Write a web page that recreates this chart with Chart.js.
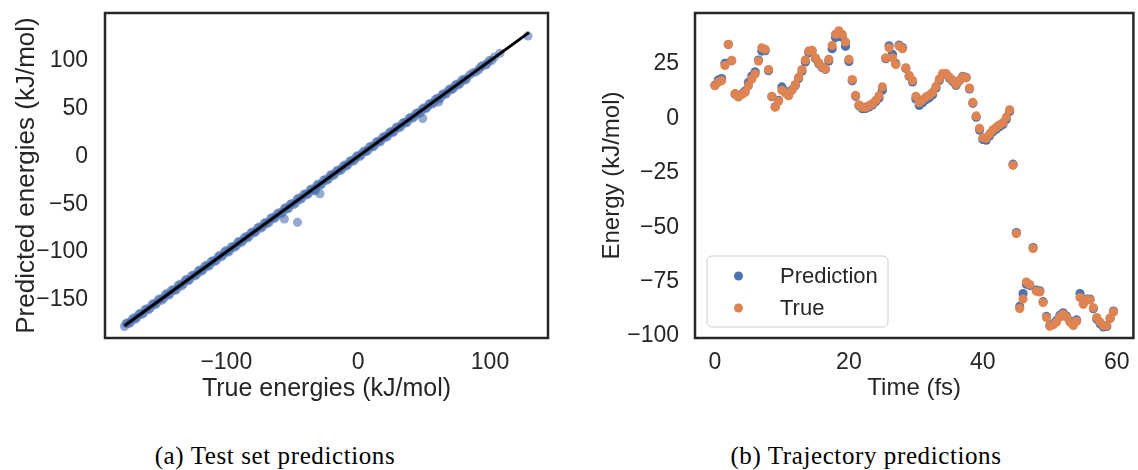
<!DOCTYPE html>
<html>
<head>
<meta charset="utf-8">
<script src="https://cdn.jsdelivr.net/npm/chart.js@4.4.0/dist/chart.umd.min.js"></script>
<style>
  html, body { margin: 0; padding: 0; background: #fff; }
  body { width: 1138px; height: 470px; position: relative; overflow: hidden; }
  canvas { position: absolute; top: 0; }
  #testChart { left: 0; }
  #trajChart { left: 590px; }
  .caption {
    position: absolute; top: 442px; transform: translateX(-50%);
    font-family: "Liberation Serif", serif; font-size: 25px; letter-spacing: 0.6px;
    color: #000; white-space: nowrap;
  }
</style>
</head>
<body>
<canvas id="testChart" width="560" height="410"></canvas>
<canvas id="trajChart" width="548" height="410"></canvas>
<div class="caption" style="left:275px">(a) Test set predictions</div>
<div class="caption" style="left:866px">(b) Trajectory predictions</div>

<script>
// -------------------- DATA: (a) test set --------------------
const testTrue = [-177.2, -175.0, -172.6, -170.1, -167.9, -165.3, -162.8, -160.4, -157.7, -155.2,
  -152.9, -150.3, -147.6, -145.1, -142.8, -140.2, -137.5, -135.3, -132.6, -130.1,
  -127.7, -125.0, -122.4, -120.1, -117.5, -115.0, -112.6, -110.2, -107.4, -104.9,
  -102.5, -100.1, -97.6, -95.0, -92.4, -90.2, -87.5, -85.1, -82.7, -80.0,
  -77.6, -75.1, -72.4, -70.2, -67.5, -65.1, -62.6, -60.1, -57.4, -55.0,
  -52.6, -50.2, -47.5, -45.1, -42.7, -40.0, -37.6, -35.2, -32.5, -30.1,
  -27.7, -25.0, -22.5, -20.1, -17.6, -15.2, -12.4, -10.1, -7.6, -5.0,
  -2.6, -0.2, 2.3, 4.9, 7.4, 9.8, 12.3, 14.9, 17.2, 19.8,
  22.4, 24.9, 27.3, 29.8, 32.4, 34.9, 37.3, 39.8, 42.5, 44.9,
  47.3, 49.8, 52.4, 54.8, 57.3, 59.9, 62.4, 64.8, 67.2, 69.9,
  72.3, 74.8, 77.4, 79.8, 82.2, 87.0, 91.5, 94.2, 96.8, 99.5,
  101.2, 107.5, 128.8,
  -56.0, -46.0, -32.6, -29.0, 49.0, 61.0];
const testPred = [-178.0, -174.1, -173.5, -169.0, -168.8, -164.2, -163.9, -159.6, -158.9, -154.0,
  -153.6, -149.1, -148.7, -143.4, -143.9, -139.5, -138.8, -134.0, -133.4, -128.6,
  -128.9, -124.1, -123.6, -118.9, -118.4, -113.8, -113.9, -109.3, -108.6, -103.5,
  -103.4, -98.6, -98.9, -94.3, -93.5, -88.8, -88.6, -84.0, -83.8, -79.1,
  -78.7, -73.9, -73.6, -69.4, -68.8, -63.9, -63.7, -59.2, -58.6, -53.7,
  -53.9, -49.4, -48.7, -43.6, -43.5, -39.2, -38.9, -34.1, -33.8, -29.0,
  -28.9, -24.2, -23.6, -19.0, -18.5, -14.3, -13.5, -9.2, -8.4, -4.1,
  -3.5, 0.8, 1.4, 5.7, 6.3, 10.6, 11.2, 15.8, 16.1, 20.9,
  21.3, 25.8, 26.2, 30.9, 31.2, 35.6, 36.1, 40.9, 41.4, 45.5,
  46.0, 50.7, 51.1, 55.6, 56.0, 60.8, 61.0, 65.5, 66.1, 70.6,
  71.2, 75.5, 76.2, 80.6, 81.0, 87.5, 90.6, 94.9, 95.7, 100.3,
  100.4, 107.9, 126.0,
  -65.4, -69.0, -36.0, -39.0, 39.6, 57.0];
// second batch of test molecules (fills the dense band)
const testTrue2 = [-176.1, -173.7, -171.3, -169.0, -166.5, -164.0, -161.6, -159.1, -156.4, -154.0,
  -151.6, -149.0, -146.3, -144.0, -141.5, -138.9, -136.4, -134.0, -131.3, -128.9,
  -126.4, -123.7, -121.2, -118.8, -116.3, -113.8, -111.4, -108.8, -106.2, -103.7,
  -101.3, -98.8, -96.3, -93.7, -91.3, -88.8, -86.3, -83.9, -81.4, -78.8,
  -76.3, -73.8, -71.3, -68.9, -66.3, -63.8, -61.4, -58.8, -56.2, -53.8,
  -51.4, -48.9, -46.3, -43.9, -41.3, -38.8, -36.4, -33.9, -31.3, -28.9,
  -26.3, -23.8, -21.3, -18.9, -16.4, -13.8, -11.3, -8.9, -6.3, -3.8,
  -1.4, 1.1, 3.6, 6.1, 8.6, 11.1, 13.6, 16.0, 18.5, 21.1,
  23.6, 26.1, 28.6, 31.1, 33.6, 36.1, 38.6, 41.1, 43.7, 46.1,
  48.6, 51.1, 53.6, 56.1, 58.6, 61.1, 63.6, 66.0, 68.5, 71.1,
  73.6, 76.1, 78.6, 81.0, 84.5, 89.2, 92.8, 97.9, 103.4];
const testPred2 = [-175.2, -174.9, -170.4, -170.3, -165.6, -165.2, -160.3, -160.5, -155.3, -155.2,
  -150.2, -150.4, -145.0, -145.3, -140.1, -140.2, -135.2, -135.5, -130.0, -130.1,
  -125.1, -125.0, -120.0, -120.1, -115.0, -115.2, -110.1, -110.0, -105.0, -105.1,
  -100.0, -100.2, -95.0, -95.1, -90.0, -90.2, -85.1, -85.3, -80.1, -80.0,
  -75.0, -75.2, -70.1, -70.3, -65.0, -65.2, -60.1, -60.3, -55.0, -55.1,
  -50.2, -50.3, -45.0, -45.2, -40.1, -40.2, -35.1, -35.2, -30.1, -30.2,
  -25.1, -25.0, -20.2, -20.1, -15.3, -15.0, -10.2, -10.1, -5.2, -5.0,
  -0.3, -0.1, 4.6, 4.9, 9.7, 9.8, 14.7, 14.8, 19.6, 19.9,
  24.7, 24.8, 29.7, 29.9, 34.5, 34.9, 39.6, 39.9, 44.6, 44.9,
  49.5, 49.8, 54.4, 54.8, 59.5, 59.9, 64.4, 64.8, 69.4, 69.9,
  74.4, 74.9, 79.3, 79.9, 85.1, 88.3, 93.4, 97.1, 103.9];
const parityEnds = [-177.2, 129.5];
const testXTicks = [-100, 0, 100];
const testYTicks = [-150, -100, -50, 0, 50, 100];

// -------------------- DATA: (b) trajectory --------------------
const timeFs = [0, 0.5, 1, 1.5, 2, 2.5, 3, 3.5, 4, 4.5, 5, 5.5, 6, 6.5, 7, 7.5, 8, 8.5, 9, 9.5,
  10, 10.5, 11, 11.5, 12, 12.5, 13, 13.5, 14, 14.5, 15, 15.5, 16, 16.5, 17, 17.5, 18, 18.5, 19, 19.5,
  20, 20.5, 21, 21.5, 22, 22.5, 23, 23.5, 24, 24.5, 25, 25.5, 26, 26.5, 27, 27.5, 28, 28.5, 29, 29.5,
  30, 30.5, 31, 31.5, 32, 32.5, 33, 33.5, 34, 34.5, 35, 35.5, 36, 36.5, 37, 37.5, 38, 38.5, 39, 39.5,
  40, 40.5, 41, 41.5, 42, 42.5, 43, 43.5, 44, 44.5, 45, 45.5, 46, 46.5, 47, 47.5, 48, 48.5, 49, 49.5,
  50, 50.5, 51, 51.5, 52, 52.5, 53, 53.5, 54, 54.5, 55, 55.5, 56, 56.5, 57, 57.5, 58, 58.5, 59, 59.5];
const trueEnergy = [15.1, 16.7, 17.4, 24.4, 34.1, 26.7, 11.4, 9.9, 11.0, 12.0,
  15.1, 18.2, 20.5, 26.4, 32.5, 31.8, 22.5, 10.2, 5.2, 7.9,
  13.0, 11.7, 10.5, 13.0, 15.6, 19.0, 22.5, 26.9, 31.0, 31.3,
  27.9, 25.6, 23.8, 22.8, 27.2, 33.6, 38.7, 40.3, 38.7, 35.2,
  27.2, 17.9, 10.6, 6.3, 5.2, 5.2, 5.9, 6.8, 8.3, 10.5,
  14.5, 27.9, 32.5, 27.9, 24.8, 33.3, 32.1, 23.3, 19.8, 17.5,
  10.2, 7.4, 8.6, 9.9, 10.8, 12.0, 14.8, 18.2, 20.7, 20.7,
  19.0, 17.6, 15.6, 17.6, 19.1, 18.7, 14.0, 7.4, 1.2, -4.5,
  -8.8, -9.1, -7.1, -5.2, -4.0, -2.9, -1.9, 0.6, 4.0, -21.5,
  -52.9, -87.3, -83.0, -75.2, -76.3, -59.7, -79.4, -79.7, -84.6, -91.5,
  -95.5, -94.8, -93.6, -91.2, -89.9, -91.2, -93.6, -95.1, -93.2, -82.3,
  -85.4, -83.4, -83.4, -87.0, -91.5, -93.6, -95.2, -95.2, -91.7, -88.9];
const predEnergy = [15.3, 17.7, 18.4, 25.4, 34.0, 26.5, 11.2, 10.1, 11.3, 12.6,
  16.6, 19.5, 21.5, 26.9, 31.0, 31.2, 22.0, 10.0, 5.4, 8.3,
  14.5, 12.5, 10.9, 13.2, 15.2, 18.4, 21.8, 26.0, 30.2, 31.0,
  27.6, 25.2, 23.4, 22.6, 26.4, 32.1, 37.2, 39.0, 37.3, 33.2,
  26.2, 17.3, 10.2, 5.9, 4.5, 4.6, 5.3, 6.2, 7.7, 9.4,
  13.0, 27.5, 33.4, 29.5, 25.3, 33.8, 32.6, 23.0, 19.4, 16.8,
  9.0, 6.0, 7.2, 8.6, 9.5, 10.9, 14.0, 17.5, 20.3, 20.4,
  18.5, 17.0, 15.2, 17.3, 19.4, 18.9, 13.6, 7.0, 0.6, -5.3,
  -9.6, -10.0, -8.0, -6.1, -4.9, -3.8, -2.8, -0.4, 3.2, -21.0,
  -52.4, -86.4, -80.5, -76.2, -76.8, -59.3, -78.9, -79.2, -84.2, -91.0,
  -95.2, -94.3, -92.9, -90.4, -89.3, -90.8, -93.0, -94.6, -92.6, -80.5,
  -84.8, -83.0, -83.0, -87.4, -92.2, -94.4, -95.8, -95.6, -91.9, -88.5];
const trajXTicks = [0, 20, 40, 60];
const trajYTicks = [-100, -75, -50, -25, 0, 25];

// -------------------- STYLE --------------------
const INK = '#262626';
const BLUE = '#4C72B0';
const ORANGE = '#DD8452';
Chart.defaults.font.family = '"Liberation Sans", Arial, sans-serif';
Chart.defaults.color = INK;

const minus = v => String(v).replace('-', '\u2212');

// dark frame round the plot area
const framePlugin = {
  id: 'frame',
  afterDatasetsDraw(chart) {
    const a = chart.chartArea, ctx = chart.ctx;
    ctx.save();
    ctx.strokeStyle = INK;
    ctx.lineWidth = 2.5;
    ctx.strokeRect(a.left, a.top, a.right - a.left, a.bottom - a.top);
    ctx.restore();
  }
};

// matplotlib-like legend inside the axes, lower left
const insideLegend = {
  id: 'insideLegend',
  afterDraw(chart) {
    const a = chart.chartArea, ctx = chart.ctx;
    const w = 181, h = 71;
    const x0 = a.left + 12, y0 = a.bottom - 11 - h;
    ctx.save();
    ctx.beginPath();
    ctx.roundRect(x0, y0, w, h, 5);
    ctx.fillStyle = 'rgba(255,255,255,0.8)';
    ctx.fill();
    ctx.strokeStyle = '#cccccc';
    ctx.lineWidth = 1;
    ctx.stroke();
    ctx.font = '22px "Liberation Sans", Arial, sans-serif';
    ctx.textBaseline = 'middle';
    chart.data.datasets.forEach((ds, i) => {
      const y = y0 + 20 + i * 32;
      ctx.beginPath();
      ctx.arc(x0 + 31.5, y, 4.5, 0, Math.PI * 2);
      ctx.fillStyle = ds.backgroundColor;
      ctx.fill();
      ctx.fillStyle = INK;
      ctx.fillText(ds.label, x0 + 73, y + 1);
    });
    ctx.restore();
  }
};

// axis with fixed box size so the plot frame lands where the figure has it
function axis(min, max, tickList, title, titleSize, titlePad, tickPad, side) {
  return {
    type: 'linear',
    min: min,
    max: max,
    grid: { display: false, drawTicks: false },
    border: { display: false },
    afterBuildTicks: s => { s.ticks = tickList.map(v => ({ value: v })); },
    afterFit: s => {
      if (side === 'x') s.height = 410 - 338;
      else s.width = 105;
      s.paddingLeft = s.paddingRight = s.paddingTop = s.paddingBottom = 0;
    },
    ticks: {
      font: { size: 23 },
      color: INK,
      padding: tickPad,
      callback: minus
    },
    title: {
      display: true,
      text: title,
      color: INK,
      font: { size: titleSize },
      padding: titlePad
    }
  };
}

// -------------------- (a) TEST SET PREDICTIONS --------------------
new Chart(document.getElementById('testChart'), {
  type: 'scatter',
  data: {
    datasets: [
      {
        label: 'parity',
        data: parityEnds.map(v => ({ x: v, y: v })),
        showLine: true,
        borderColor: '#000',
        borderWidth: 3,
        pointRadius: 0,
        order: 1
      },
      {
        label: 'test',
        data: testTrue.map((v, i) => ({ x: v, y: testPred[i] }))
          .concat(testTrue2.map((v, i) => ({ x: v, y: testPred2[i] }))),
        backgroundColor: 'rgba(76,114,176,0.6)',
        borderWidth: 0,
        pointRadius: 4.6,
        order: 2
      }
    ]
  },
  options: {
    responsive: false,
    animation: false,
    layout: { padding: { top: 13, right: 12, left: 0, bottom: 0 } },
    plugins: { legend: { display: false }, tooltip: { enabled: false } },
    scales: {
      x: axis(-192, 144, testXTicks, 'True energies (kJ/mol)', 25, { top: 0, bottom: 6 }, 11, 'x'),
      y: axis(-190, 150, testYTicks, 'Predicted energies (kJ/mol)', 26, { top: 11, bottom: 0 }, 17, 'y')
    }
  },
  plugins: [framePlugin]
});

// -------------------- (b) TRAJECTORY PREDICTIONS --------------------
new Chart(document.getElementById('trajChart'), {
  type: 'scatter',
  data: {
    datasets: [
      {
        label: 'Prediction',
        data: timeFs.map((t, i) => ({ x: t, y: predEnergy[i] })),
        backgroundColor: BLUE,
        borderWidth: 0,
        pointRadius: 4.6,
        order: 2
      },
      {
        label: 'True',
        data: timeFs.map((t, i) => ({ x: t, y: trueEnergy[i] })),
        backgroundColor: ORANGE,
        borderWidth: 0,
        pointRadius: 4.6,
        order: 1
      }
    ]
  },
  options: {
    responsive: false,
    animation: false,
    layout: { padding: { top: 13, right: 1, left: 0, bottom: 0 } },
    plugins: { legend: { display: false }, tooltip: { enabled: false } },
    scales: {
      x: axis(-2.975, 62.475, trajXTicks, 'Time (fs)', 24, { top: 0, bottom: 7 }, 11, 'x'),
      y: axis(-100.9, 48.5, trajYTicks, 'Energy (kJ/mol)', 24, { top: 8, bottom: 0 }, 16, 'y')
    }
  },
  plugins: [framePlugin, insideLegend]
});
</script>
</body>
</html>
